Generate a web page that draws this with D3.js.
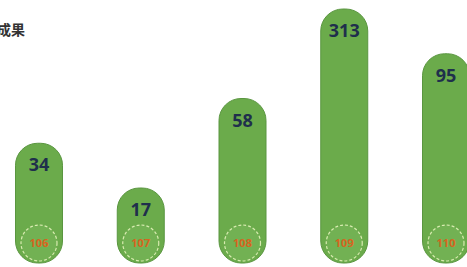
<!DOCTYPE html>
<html>
<head>
<meta charset="utf-8">
<script src="https://cdn.jsdelivr.net/npm/d3@7"></script>
<style>
	body { margin: 0; background: #fff; }
	svg { display: block; }
</style>
</head>
<body>
<div id="chart"></div>
<script>
var title = "成果";
var years = ["106", "107", "108", "109", "110"];
var values = [34, 17, 58, 313, 95];

var width = 467, height = 267;
var barWidth = 47;
var bottom = 263;

var svg = d3.select("#chart").append("svg")
	.attr("width", width)
	.attr("height", height);

// x: one slot per year
var x = d3.scalePoint()
	.domain(years)
	.range([39, 446]);

// bar heights follow the rank of the value (infographic style, not to scale)
var ranked = values.slice().sort(d3.ascending);
var h = d3.scalePoint()
	.domain(ranked)
	.range([75, 254]);
function barTop(d) { return bottom - h(d); }

svg.append("text")
	.attr("x", 25)
	.attr("y", 35)
	.attr("text-anchor", "end")
	.style("font-family", "'Noto Sans CJK TC', sans-serif")
	.style("font-weight", "bold")
	.style("font-size", "14px")
	.style("fill", "#333")
	.text(title);

var bar = svg.append("g").selectAll(".bar")
		.data(values)
	.enter().append("g")
		.attr("class", "bar")
		.attr("transform", function(d, i) {
			return "translate(" + x(years[i]) + ",0)";
		});

bar.append("rect")
	.attr("x", -barWidth / 2)
	.attr("y", barTop)
	.attr("width", barWidth)
	.attr("height", function(d) { return h(d); })
	.attr("rx", 22)
	.attr("ry", 22)
	.style("fill", "#6bab4b")
	.style("stroke", "#5a9640")
	.style("stroke-width", 1);

// dashed ring at the foot
bar.append("circle")
	.attr("cx", 0)
	.attr("cy", bottom - 20)
	.attr("r", 18)
	.style("fill", "#72b153")
	.style("stroke", "#d8ebb0")
	.style("stroke-width", 1.2)
	.style("stroke-dasharray", "3,2");

bar.append("text")
	.attr("y", function(d) { return barTop(d) + 28; })
	.attr("text-anchor", "middle")
	.style("font-family", "'Open Sans', sans-serif")
	.style("font-weight", "bold")
	.style("font-size", "18px")
	.style("fill", "#1f2f4c")
	.text(function(d) { return d; });

bar.append("text")
	.attr("y", bottom - 16)
	.attr("text-anchor", "middle")
	.style("font-family", "'Open Sans', sans-serif")
	.style("font-weight", "bold")
	.style("font-size", "11px")
	.style("fill", "#d8641f")
	.text(function(d, i) { return years[i]; });
</script>
</body>
</html>
